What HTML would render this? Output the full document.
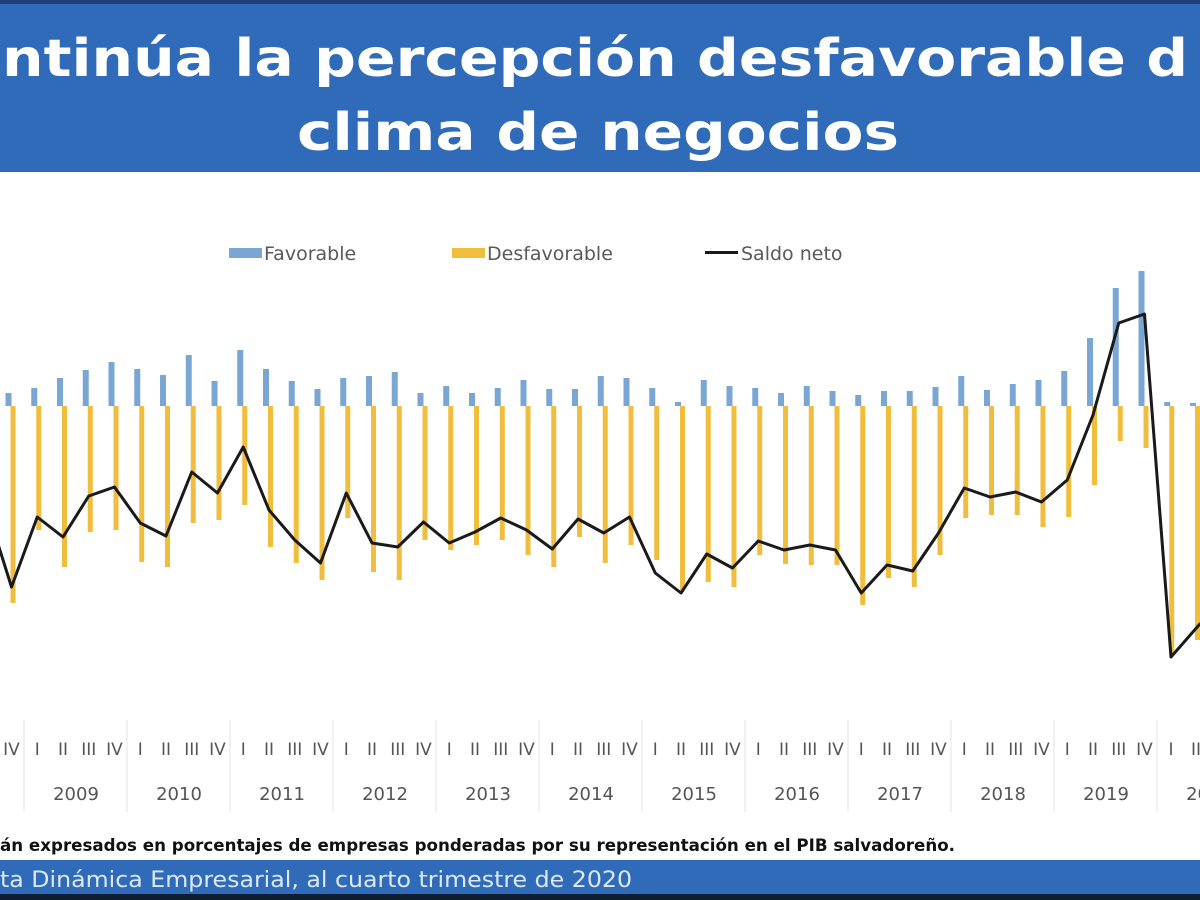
<!DOCTYPE html>
<html><head><meta charset="utf-8"><style>
html,body{margin:0;padding:0;background:#fff;}
svg{display:block}
</style></head><body>
<svg width="1200" height="900" viewBox="0 0 1200 900" xmlns="http://www.w3.org/2000/svg" font-family="'DejaVu Sans','Liberation Sans',sans-serif">
<rect x="0" y="0" width="1200" height="900" fill="#fff"/>
<rect x="0" y="0" width="1200" height="4" fill="#1c3f7a"/>
<rect x="0" y="4" width="1200" height="168" fill="#2f6bb9"/>
<text x="2" y="76" font-size="52" font-weight="bold" fill="#fff" textLength="1186" lengthAdjust="spacingAndGlyphs">ntinúa la percepción desfavorable d</text>
<text x="297" y="150" font-size="52" font-weight="bold" fill="#fff" textLength="602" lengthAdjust="spacingAndGlyphs">clima de negocios</text>

<!-- legend -->
<g font-size="19" fill="#595959">
<rect x="229" y="248" width="33" height="10" fill="#7aa6d4"/><text x="264" y="260">Favorable</text>
<rect x="452" y="248" width="33" height="10" fill="#f0bd3c"/><text x="487" y="260">Desfavorable</text>
<rect x="705" y="251" width="33" height="3" fill="#1a1a1a"/><text x="741" y="260">Saldo neto</text>
</g>

<!-- blue bars -->
<g fill="#7aa6d4">
<rect x="5.5" y="393" width="6" height="13"/>
<rect x="31.25" y="388" width="6" height="18"/>
<rect x="57" y="378" width="6" height="28"/>
<rect x="82.75" y="370" width="6" height="36"/>
<rect x="108.5" y="362" width="6" height="44"/>
<rect x="134.25" y="369" width="6" height="37"/>
<rect x="160" y="375" width="6" height="31"/>
<rect x="185.75" y="355" width="6" height="51"/>
<rect x="211.5" y="381" width="6" height="25"/>
<rect x="237.25" y="350" width="6" height="56"/>
<rect x="263" y="369" width="6" height="37"/>
<rect x="288.75" y="381" width="6" height="25"/>
<rect x="314.5" y="389" width="6" height="17"/>
<rect x="340.25" y="378" width="6" height="28"/>
<rect x="366" y="376" width="6" height="30"/>
<rect x="391.75" y="372" width="6" height="34"/>
<rect x="417.5" y="393" width="6" height="13"/>
<rect x="443.25" y="386" width="6" height="20"/>
<rect x="469" y="393" width="6" height="13"/>
<rect x="494.75" y="388" width="6" height="18"/>
<rect x="520.5" y="380" width="6" height="26"/>
<rect x="546.25" y="389" width="6" height="17"/>
<rect x="572" y="389" width="6" height="17"/>
<rect x="597.75" y="376" width="6" height="30"/>
<rect x="623.5" y="378" width="6" height="28"/>
<rect x="649.25" y="388" width="6" height="18"/>
<rect x="675" y="402" width="6" height="4"/>
<rect x="700.75" y="380" width="6" height="26"/>
<rect x="726.5" y="386" width="6" height="20"/>
<rect x="752.25" y="388" width="6" height="18"/>
<rect x="778" y="393" width="6" height="13"/>
<rect x="803.75" y="386" width="6" height="20"/>
<rect x="829.5" y="391" width="6" height="15"/>
<rect x="855.25" y="395" width="6" height="11"/>
<rect x="881" y="391" width="6" height="15"/>
<rect x="906.75" y="391" width="6" height="15"/>
<rect x="932.5" y="387" width="6" height="19"/>
<rect x="958.25" y="376" width="6" height="30"/>
<rect x="984" y="390" width="6" height="16"/>
<rect x="1009.75" y="384" width="6" height="22"/>
<rect x="1035.5" y="380" width="6" height="26"/>
<rect x="1061.25" y="371" width="6" height="35"/>
<rect x="1087" y="338" width="6" height="68"/>
<rect x="1112.75" y="288" width="6" height="118"/>
<rect x="1138.5" y="271" width="6" height="135"/>
<rect x="1164.25" y="402" width="6" height="4"/>
<rect x="1190" y="403" width="6" height="3"/>
</g>

<!-- orange bars -->
<g fill="#f0bd3c">
<rect x="10.5" y="406" width="5" height="197"/>
<rect x="36.25" y="406" width="5" height="124"/>
<rect x="62" y="406" width="5" height="161"/>
<rect x="87.75" y="406" width="5" height="126"/>
<rect x="113.5" y="406" width="5" height="124"/>
<rect x="139.25" y="406" width="5" height="156"/>
<rect x="165" y="406" width="5" height="161"/>
<rect x="190.75" y="406" width="5" height="117"/>
<rect x="216.5" y="406" width="5" height="114"/>
<rect x="242.25" y="406" width="5" height="99"/>
<rect x="268" y="406" width="5" height="141"/>
<rect x="293.75" y="406" width="5" height="157"/>
<rect x="319.5" y="406" width="5" height="174"/>
<rect x="345.25" y="406" width="5" height="112"/>
<rect x="371" y="406" width="5" height="166"/>
<rect x="396.75" y="406" width="5" height="174"/>
<rect x="422.5" y="406" width="5" height="134"/>
<rect x="448.25" y="406" width="5" height="144"/>
<rect x="474" y="406" width="5" height="139"/>
<rect x="499.75" y="406" width="5" height="134"/>
<rect x="525.5" y="406" width="5" height="149"/>
<rect x="551.25" y="406" width="5" height="161"/>
<rect x="577" y="406" width="5" height="131"/>
<rect x="602.75" y="406" width="5" height="157"/>
<rect x="628.5" y="406" width="5" height="139"/>
<rect x="654.25" y="406" width="5" height="154"/>
<rect x="680" y="406" width="5" height="184"/>
<rect x="705.75" y="406" width="5" height="176"/>
<rect x="731.5" y="406" width="5" height="181"/>
<rect x="757.25" y="406" width="5" height="149"/>
<rect x="783" y="406" width="5" height="158"/>
<rect x="808.75" y="406" width="5" height="159"/>
<rect x="834.5" y="406" width="5" height="159"/>
<rect x="860.25" y="406" width="5" height="199"/>
<rect x="886" y="406" width="5" height="172"/>
<rect x="911.75" y="406" width="5" height="181"/>
<rect x="937.5" y="406" width="5" height="149"/>
<rect x="963.25" y="406" width="5" height="112"/>
<rect x="989" y="406" width="5" height="109"/>
<rect x="1014.75" y="406" width="5" height="109"/>
<rect x="1040.5" y="406" width="5" height="121"/>
<rect x="1066.25" y="406" width="5" height="111"/>
<rect x="1092" y="406" width="5" height="79"/>
<rect x="1117.75" y="406" width="5" height="35"/>
<rect x="1143.5" y="406" width="5" height="42"/>
<rect x="1169.25" y="406" width="5" height="249"/>
<rect x="1195" y="406" width="5" height="234"/>
</g>

<polyline fill="none" stroke="#1a1a1a" stroke-width="3" stroke-linejoin="round" points="-8,525 11.5,587 37.25,517 63,537 88.75,496 114.5,487 140.25,523 166,536 191.75,472 217.5,493 243.25,447 269,510 294.75,540 320.5,563 346.25,493 372,543 397.75,547 423.5,522 449.25,543 475,532 500.75,518 526.5,530 552.25,549 578,519 603.75,533 629.5,517 655.25,573 681,593 706.75,554 732.5,568 758.25,541 784,550 809.75,545 835.5,550 861.25,593 887,565 912.75,571 938.5,533 964.25,488 990,497 1015.75,492 1041.5,502 1067.25,480 1093,415 1118.75,323 1144.5,314 1171,657 1199,625 1210,615"/>

<!-- year separators -->
<g stroke="#e3e3e3" stroke-width="1">
<line x1="24" y1="720" x2="24" y2="812"/>
<line x1="127" y1="720" x2="127" y2="812"/>
<line x1="230" y1="720" x2="230" y2="812"/>
<line x1="333" y1="720" x2="333" y2="812"/>
<line x1="436" y1="720" x2="436" y2="812"/>
<line x1="539" y1="720" x2="539" y2="812"/>
<line x1="642" y1="720" x2="642" y2="812"/>
<line x1="745" y1="720" x2="745" y2="812"/>
<line x1="848" y1="720" x2="848" y2="812"/>
<line x1="951" y1="720" x2="951" y2="812"/>
<line x1="1054" y1="720" x2="1054" y2="812"/>
<line x1="1157" y1="720" x2="1157" y2="812"/>
</g>

<!-- quarter labels -->
<g font-size="17" fill="#555" text-anchor="middle">
<text x="11.5" y="755">IV</text>
<text x="37.25" y="755">I</text><text x="63" y="755">II</text><text x="88.75" y="755">III</text><text x="114.5" y="755">IV</text>
<text x="140.25" y="755">I</text><text x="166" y="755">II</text><text x="191.75" y="755">III</text><text x="217.5" y="755">IV</text>
<text x="243.25" y="755">I</text><text x="269" y="755">II</text><text x="294.75" y="755">III</text><text x="320.5" y="755">IV</text>
<text x="346.25" y="755">I</text><text x="372" y="755">II</text><text x="397.75" y="755">III</text><text x="423.5" y="755">IV</text>
<text x="449.25" y="755">I</text><text x="475" y="755">II</text><text x="500.75" y="755">III</text><text x="526.5" y="755">IV</text>
<text x="552.25" y="755">I</text><text x="578" y="755">II</text><text x="603.75" y="755">III</text><text x="629.5" y="755">IV</text>
<text x="655.25" y="755">I</text><text x="681" y="755">II</text><text x="706.75" y="755">III</text><text x="732.5" y="755">IV</text>
<text x="758.25" y="755">I</text><text x="784" y="755">II</text><text x="809.75" y="755">III</text><text x="835.5" y="755">IV</text>
<text x="861.25" y="755">I</text><text x="887" y="755">II</text><text x="912.75" y="755">III</text><text x="938.5" y="755">IV</text>
<text x="964.25" y="755">I</text><text x="990" y="755">II</text><text x="1015.75" y="755">III</text><text x="1041.5" y="755">IV</text>
<text x="1067.25" y="755">I</text><text x="1093" y="755">II</text><text x="1118.75" y="755">III</text><text x="1144.5" y="755">IV</text>
<text x="1171" y="755">I</text><text x="1196" y="755">II</text>
</g>
<g font-size="18" fill="#555" text-anchor="middle">
<text x="76" y="800">2009</text><text x="179" y="800">2010</text><text x="282" y="800">2011</text>
<text x="385" y="800">2012</text><text x="488" y="800">2013</text><text x="591" y="800">2014</text>
<text x="694" y="800">2015</text><text x="797" y="800">2016</text><text x="900" y="800">2017</text>
<text x="1003" y="800">2018</text><text x="1106" y="800">2019</text><text x="1209" y="800">2020</text>
</g>

<text x="0" y="851" font-size="16.5" font-weight="bold" fill="#111" textLength="955" lengthAdjust="spacingAndGlyphs">án expresados en porcentajes de empresas ponderadas por su representación en el PIB salvadoreño.</text>

<rect x="0" y="860" width="1200" height="36" fill="#2f6bb9"/>
<rect x="0" y="894" width="1200" height="6" fill="#0f1d33"/>
<text x="0" y="887" font-size="22" fill="#dde9f7" textLength="632" lengthAdjust="spacingAndGlyphs">ta Dinámica Empresarial, al cuarto trimestre de 2020</text>
</svg>
</body></html>
